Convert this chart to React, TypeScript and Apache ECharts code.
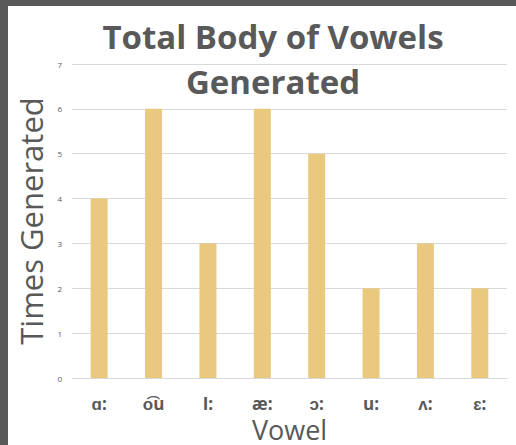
import React, { useEffect, useRef } from "react";
import * as echarts from "echarts";

const categories = ["ɑ:", "o͡u", "I:", "æ:", "ɔ:", "u:", "ʌ:", "ɛ:"];
const values = [4, 6, 3, 6, 5, 2, 3, 2];
const yTicks = { min: 0, max: 7, interval: 1 };

const FONT = "'Open Sans', sans-serif";

export default function App() {
  const ref = useRef<HTMLDivElement>(null);
  useEffect(() => {
    document.body.style.margin = "0";
    const chart = echarts.init(ref.current!, undefined, { renderer: "svg" });
    chart.setOption({
      animation: false,
      backgroundColor: "#ffffff",
      title: {
        text: "Total Body of Vowels\nGenerated",
        left: 260,
        textAlign: "center",
        top: 3,
        textStyle: {
          fontFamily: FONT,
          fontSize: 33,
          fontWeight: "bold",
          color: "#595959",
          lineHeight: 45,
        },
      },
      grid: { left: 64, right: 9, top: 58, bottom: 67, outerBoundsMode: "none", containLabel: false },
      xAxis: {
        type: "category",
        data: categories,
        name: "Vowel",
        nameLocation: "middle",
        nameGap: 34,
        nameTextStyle: {
          fontFamily: FONT,
          fontSize: 27,
          color: "#595959",
          verticalAlign: "top",
          lineHeight: 20,
        },
        axisLine: { lineStyle: { color: "#d9d9d9" } },
        axisTick: { show: false },
        axisLabel: {
          fontFamily: FONT,
          fontSize: 17,
          fontWeight: "bold",
          color: "#595959",
          margin: 18,
          lineHeight: 14,
        },
      },
      yAxis: {
        type: "value",
        min: yTicks.min,
        max: yTicks.max,
        interval: yTicks.interval,
        name: "Times Generated",
        nameLocation: "middle",
        nameGap: 25,
        nameTextStyle: { fontFamily: FONT, fontSize: 31, color: "#595959" },
        axisLine: { show: false },
        axisTick: { show: false },
        axisLabel: { fontFamily: FONT, fontSize: 8, color: "#595959", margin: 10 },
        splitLine: { lineStyle: { color: "#d9d9d9" } },
      },
      series: [
        {
          type: "bar",
          data: values,
          barWidth: 17,
          itemStyle: { color: "#E8C97E" },
        },
      ],
    });
    return () => chart.dispose();
  }, []);
  return (
    <div style={{ position: "fixed", left: 0, top: 0, width: 516, height: 445, background: "#595959" }}>
      <div ref={ref} style={{ position: "absolute", left: 8, top: 6, width: 508, height: 439 }} />
    </div>
  );
}
